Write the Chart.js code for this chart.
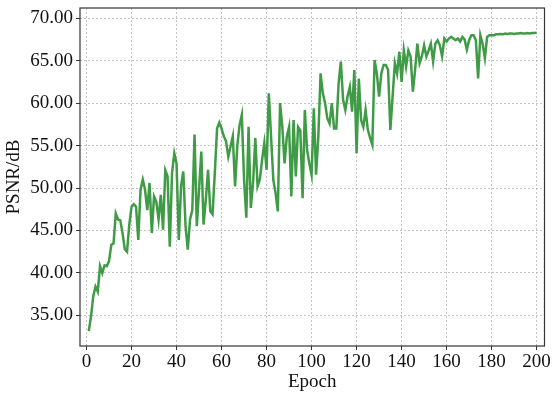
<!DOCTYPE html>
<html>
<head>
<meta charset="utf-8">
<script src="https://cdn.jsdelivr.net/npm/chart.js@4.4.1/dist/chart.umd.min.js"></script>
<style>
  html, body { margin: 0; padding: 0; background: #fff; }
  #wrap { width: 552px; height: 393px; }
</style>
</head>
<body>
<div id="wrap"><canvas id="myChart" width="552" height="393"></canvas></div>
<script>
const epochs = Array.from({length: 200}, (_, i) => i + 1);

const psnr = [
  33.15, 34.9, 37.3, 38.4, 37.8, 40.8, 40.0, 40.9, 40.8, 41.4,
  43.3, 43.5, 47.0, 46.3, 46.2, 44.7, 42.8, 42.5, 45.7, 47.8,
  48.1, 47.8, 43.9, 49.8, 51.0, 49.8, 47.4, 50.6, 44.7, 49.0,
  48.4, 46.3, 49.2, 45.1, 52.1, 51.4, 43.1, 51.8, 54.1, 52.9,
  43.9, 50.2, 51.95, 45.5, 42.75, 46.3, 47.4, 56.3, 45.5, 49.8,
  54.3, 45.7, 48.6, 52.15, 47.25, 46.9, 51.75, 57.0, 57.7, 57.0,
  56.1, 55.5, 53.7, 54.9, 56.1, 50.2, 55.0, 57.4, 58.6, 51.0,
  46.5, 57.2, 47.65, 50.6, 55.9, 50.2, 51.0, 53.3, 55.3, 52.15,
  61.15, 56.06, 50.97, 49.4, 47.25, 60.0, 57.2, 52.9, 56.06, 57.2,
  49.0, 58.0, 51.36, 57.2, 56.8, 48.8, 59.2, 54.5, 52.9, 51.56,
  59.4, 51.56, 56.06, 63.5, 61.15, 60.0, 58.2, 57.6, 60.0, 57.0,
  57.0, 62.3, 64.9, 60.4, 59.2, 60.8, 61.9, 59.0, 63.9, 54.1,
  62.9, 58.0, 57.2, 59.2, 56.85, 55.9, 55.1, 65.07, 63.5, 60.76,
  63.5, 64.5, 64.5, 63.9, 56.85, 60.76, 64.7, 63.5, 66.05, 62.5,
  66.2, 64.3, 66.2, 65.5, 61.35, 63.9, 67.0, 64.7, 65.5, 66.8,
  65.5, 66.2, 67.0, 64.9, 67.0, 67.4, 66.8, 65.5, 67.6, 67.25,
  67.6, 67.8, 67.6, 67.4, 67.6, 67.25, 67.8, 67.5, 66.3, 67.4,
  68.0, 68.0, 67.4, 62.9, 68.0, 67.0, 65.3, 67.8, 68.0, 68.0,
  68.0, 68.1, 68.1, 68.15, 68.1, 68.2, 68.15, 68.2, 68.2, 68.15,
  68.2, 68.2, 68.25, 68.2, 68.2, 68.25, 68.2, 68.25, 68.25, 68.3
];

const xTicks = [0, 20, 40, 60, 80, 100, 120, 140, 160, 180, 200];
const yTicks = [35, 40, 45, 50, 55, 60, 65, 70];

Chart.defaults.font.family = "'Liberation Serif', 'DejaVu Serif', serif";
Chart.defaults.color = '#111';

// frame around the plot area
const frame = {
    id: 'frame',
    afterDraw(chart) {
        const {ctx, chartArea: a} = chart;
        ctx.save();
        ctx.strokeStyle = '#333';
        ctx.lineWidth = 1.2;
        ctx.strokeRect(a.left, a.top, a.right - a.left, a.bottom - a.top);
        ctx.restore();
    }
};

const ctx = document.getElementById('myChart').getContext('2d');
const myChart = new Chart(ctx, {
    type: 'line',
    data: {
        datasets: [{
            data: epochs.map((e, i) => ({x: e, y: psnr[i]})),
            borderColor: '#3f9b46',
            borderWidth: 2.5,
            pointRadius: 0,
            tension: 0,
            fill: false
        }]
    },
    options: {
        responsive: false,
        animation: false,
        layout: {
            padding: {top: 8, right: 7.5, left: 0, bottom: 0}
        },
        scales: {
            x: {
                type: 'linear',
                min: -2.9,
                max: 203.5,
                afterBuildTicks: (scale) => { scale.ticks = xTicks.map(v => ({value: v})); },
                afterFit: (scale) => {
                    scale.height = 47;
                    scale.paddingLeft = 0;
                    scale.paddingRight = 0;
                },
                grid: {
                    color: '#b5b5b5',
                    lineWidth: 0.8,
                    tickLength: 4,
                    tickColor: '#333',
                    tickWidth: 1
                },
                border: { display: false, dash: [2, 2] },
                ticks: {
                    font: {size: 19},
                    padding: 1,
                    maxRotation: 0
                },
                title: {
                    display: true,
                    text: 'Epoch',
                    font: {size: 19},
                    padding: {top: -4, bottom: 0}
                }
            },
            y: {
                min: 31.4,
                max: 71.2,
                afterBuildTicks: (scale) => { scale.ticks = yTicks.map(v => ({value: v})); },
                afterFit: (scale) => {
                    scale.width = 80;
                    scale.paddingTop = 0;
                    scale.paddingBottom = 0;
                },
                grid: {
                    color: '#b5b5b5',
                    lineWidth: 0.8,
                    tickLength: 4,
                    tickColor: '#333',
                    tickWidth: 1
                },
                border: { display: false, dash: [2, 2] },
                ticks: {
                    font: {size: 19},
                    padding: 3,
                    callback: (v) => v.toFixed(2)
                },
                title: {
                    display: true,
                    text: 'PSNR/dB',
                    font: {size: 19},
                    padding: {top: 3, bottom: 0}
                }
            }
        },
        plugins: {
            legend: { display: false },
            tooltip: { enabled: false }
        }
    },
    plugins: [frame]
});
</script>
</body>
</html>
